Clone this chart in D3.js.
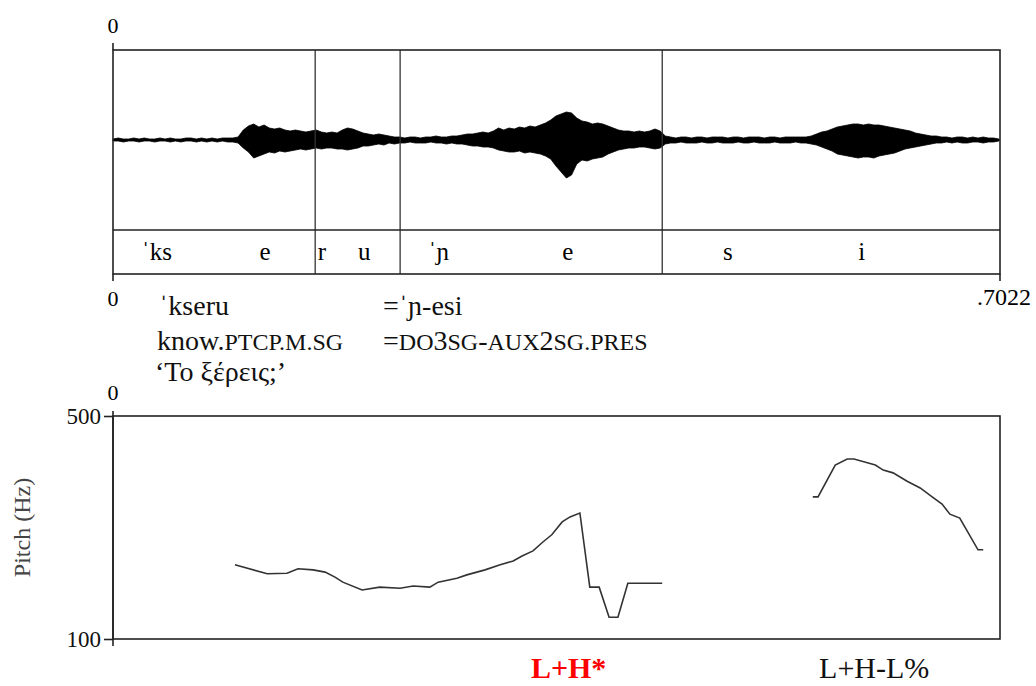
<!DOCTYPE html>
<html>
<head>
<meta charset="utf-8">
<script src="https://cdn.jsdelivr.net/npm/d3@7"></script>
<style>
  body { margin: 0; background: #fff; }
  svg { display: block; font-family: "Liberation Serif", "DejaVu Serif", serif; }
</style>
</head>
<body>
<div id="graph"></div>
<script>
const width = 1036, height = 686;

// recording length (s) and tier boundaries (s)
const duration = 1.7022;
const boundaries = [0.388, 0.551, 1.054];

// tier labels and their centre times (s)
const tierLabels = ["ˈks", "e", "r", "u", "ˈɲ", "e", "s", "i"];
const tierTimes = [0.084, 0.292, 0.401, 0.482, 0.625, 0.873, 1.180, 1.437];

// waveform envelope, one value each 10 ms (amplitude, arbitrary units)
const waveTop = [
  1,2,1,1,2,1,2,1,1,2,1,2,1,1,2,2,1,2,1,2,1,2,2,2,
  3,10,14,16,13,15,12,11,12,10,9,10,9,8,9,10,8,7,8,7,10,12,11,9,7,6,5,6,5,4,3,
  3,2,3,3,2,3,3,4,3,3,4,
  4,5,6,6,7,8,7,9,12,10,12,11,13,12,14,13,15,17,20,24,26,28,27,22,19,18,16,17,16,14,12,10,9,9,8,9,8,9,11,9,4,
  3,2,3,3,2,3,3,2,3,3,3,2,3,3,2,3,3,3,2,3,3,2,3,3,3,3,3,
  4,6,8,9,11,13,14,15,16,16,15,16,15,15,14,13,12,11,10,9,7,6,5,4,4,
  3,3,2,3,3,2,3,2,3,2,2,1
];
const waveBottom = [
  1,1,2,1,1,2,1,1,2,1,1,2,1,2,1,1,2,1,2,1,2,1,2,2,
  3,8,12,18,16,14,12,13,11,12,11,10,9,10,9,8,9,8,8,9,9,10,9,8,6,6,5,4,5,3,4,
  3,3,2,3,3,3,2,3,3,4,3,
  4,4,5,6,6,7,7,8,10,11,12,12,11,13,12,13,14,16,19,26,32,38,35,24,20,21,19,18,17,14,12,10,9,8,8,7,7,8,9,8,4,
  3,3,2,3,3,3,2,3,3,2,3,3,3,2,3,3,2,3,3,3,2,3,3,3,2,3,3,
  4,5,7,9,11,14,15,16,17,18,17,17,18,16,15,14,13,11,9,8,7,6,5,4,3,
  3,2,3,2,3,3,2,2,3,2,2,1
];

// pitch track, two voiced stretches (time s, Hz)
const pitchTimes1 = [0.234,0.296,0.334,0.355,0.384,0.407,0.426,0.441,0.478,0.512,0.551,0.576,0.608,0.624,0.660,0.679,0.714,0.743,0.768,0.785,0.806,0.825,0.842,0.862,0.877,0.896,0.915,0.933,0.952,0.969,0.988,1.017,1.054];
const pitchHz1 = [233,217,218,226,224,220,211,202,188,193,191,195,193,202,209,215,224,233,240,249,258,274,287,310,319,326,193,193,139,139,200,200,200];
const pitchTimes2 = [1.343,1.353,1.386,1.409,1.422,1.463,1.478,1.497,1.524,1.549,1.572,1.591,1.606,1.625,1.660,1.670];
const pitchHz2 = [355,355,412,423,423,412,403,398,383,371,355,342,324,317,260,260];

// gloss lines
const glossWords = ["ˈkseru", "=ˈɲ-esi"];
const toneLabels = ["L+H*", "L+H-L%"];
const toneTimes = [0.802, 1.355];

const svg = d3.select("#graph").append("svg")
  .attr("width", width)
  .attr("height", height);

const x = d3.scaleLinear().domain([0, duration]).range([113, 1000]);

// ---- waveform panel ----
const wTop = 50, wTier = 230, wBottom = 274;
const yWave = d3.scaleLinear().domain([-90, 90]).range([wTier, wTop]);

const waveData = waveTop.map((v, i) => ({ t: i * 0.01, hi: v, lo: -waveBottom[i] }));
svg.append("path")
  .datum(waveData)
  .attr("fill", "#000")
  .attr("stroke", "#000")
  .attr("stroke-width", 0.8)
  .attr("d", d3.area().x(d => x(d.t)).y0(d => yWave(d.lo)).y1(d => yWave(d.hi)));

svg.append("line")
  .attr("x1", x(0)).attr("x2", x(duration))
  .attr("y1", yWave(0)).attr("y2", yWave(0))
  .attr("stroke", "#000").attr("stroke-width", 1.2);

svg.selectAll(".bound").data(boundaries).enter().append("line")
  .attr("class", "bound")
  .attr("x1", d => x(d)).attr("x2", d => x(d))
  .attr("y1", wTop).attr("y2", wBottom)
  .attr("stroke", "#333").attr("stroke-width", 1.3);

svg.append("rect")
  .attr("x", x(0)).attr("y", wTop)
  .attr("width", x(duration) - x(0)).attr("height", wBottom - wTop)
  .attr("fill", "none").attr("stroke", "#222").attr("stroke-width", 1.6);

svg.append("line")
  .attr("x1", x(0)).attr("x2", x(duration))
  .attr("y1", wTier).attr("y2", wTier)
  .attr("stroke", "#222").attr("stroke-width", 1.4);

// small ticks at the time origin
svg.append("line").attr("x1", x(0)).attr("x2", x(0)).attr("y1", 43).attr("y2", wTop).attr("stroke", "#222").attr("stroke-width", 1.6);
svg.append("line").attr("x1", x(0)).attr("x2", x(0)).attr("y1", wBottom).attr("y2", 281).attr("stroke", "#222").attr("stroke-width", 1.6);
svg.append("line").attr("x1", x(duration)).attr("x2", x(duration)).attr("y1", wBottom).attr("y2", 281).attr("stroke", "#222").attr("stroke-width", 1.6);

svg.selectAll(".tier").data(tierLabels).enter().append("text")
  .attr("class", "tier")
  .attr("x", (d, i) => x(tierTimes[i]))
  .attr("y", 260)
  .attr("text-anchor", "middle")
  .attr("font-size", 25)
  .text(d => d);

svg.append("text").attr("x", x(0)).attr("y", 33).attr("text-anchor", "middle").attr("font-size", 22).text("0");
svg.append("text").attr("x", x(0)).attr("y", 306).attr("text-anchor", "middle").attr("font-size", 22).text("0");
svg.append("text").attr("x", 977).attr("y", 305).attr("font-size", 24).text(".7022");

// ---- gloss ----
const big = 28, sc = 24;
const gloss = svg.append("g").attr("font-size", big).attr("fill", "#111");
gloss.append("text").attr("x", 159).attr("y", 315).text(glossWords[0]);
gloss.append("text").attr("x", 383).attr("y", 315).text(glossWords[1]);

const l2a = gloss.append("text").attr("x", 157).attr("y", 350);
l2a.append("tspan").text("know.");
l2a.append("tspan").attr("font-size", sc).text("PTCP.M.SG");

const l2b = gloss.append("text").attr("x", 383).attr("y", 350);
[["=", big], ["DO", sc], ["3", big], ["SG", sc], ["-", big], ["AUX", sc], ["2", big], ["SG.PRES", sc]]
  .forEach(p => l2b.append("tspan").attr("font-size", p[1]).text(p[0]));

gloss.append("text").attr("x", 155).attr("y", 381).text("‘Το ξέρεις;’");

svg.append("text").attr("x", x(0)).attr("y", 400).attr("text-anchor", "middle").attr("font-size", 22).text("0");

// ---- pitch panel ----
const pTop = 416, pBottom = 639;
const yPitch = d3.scaleLinear().domain([100, 500]).range([pBottom, pTop]);

svg.append("rect")
  .attr("x", x(0)).attr("y", yPitch(500))
  .attr("width", x(duration) - x(0)).attr("height", yPitch(100) - yPitch(500))
  .attr("fill", "none").attr("stroke", "#222").attr("stroke-width", 1.6);

svg.append("line").attr("x1", x(0)).attr("x2", x(0)).attr("y1", 411).attr("y2", 646).attr("stroke", "#222").attr("stroke-width", 1.6);

const yAxis = d3.axisLeft(yPitch).tickValues([100, 500]).tickSize(9).tickPadding(3);
const ya = svg.append("g").attr("transform", `translate(${x(0)},0)`).call(yAxis);
ya.select(".domain").remove();
ya.selectAll("line").attr("stroke", "#222").attr("stroke-width", 1.6);
ya.selectAll("text").attr("font-family", "Liberation Serif, serif").attr("font-size", 23).attr("fill", "#111");

svg.append("text")
  .attr("transform", `translate(30,${(pTop + pBottom) / 2}) rotate(-90)`)
  .attr("text-anchor", "middle")
  .attr("font-size", 24)
  .attr("fill", "#444")
  .text("Pitch (Hz)");

const pitchLine = d3.line().x(d => x(d[0])).y(d => yPitch(d[1]));
[[pitchTimes1, pitchHz1], [pitchTimes2, pitchHz2]].forEach(s => {
  svg.append("path")
    .datum(d3.zip(s[0], s[1]))
    .attr("fill", "none")
    .attr("stroke", "#333")
    .attr("stroke-width", 1.6)
    .attr("d", pitchLine);
});

// ---- tone labels ----
svg.selectAll(".tone").data(toneLabels).enter().append("text")
  .attr("class", "tone")
  .attr("x", (d, i) => x(toneTimes[i]))
  .attr("y", 678)
  .attr("font-size", 30)
  .attr("font-weight", (d, i) => i === 0 ? "bold" : "normal")
  .attr("fill", (d, i) => i === 0 ? "#ff0000" : "#111")
  .text(d => d);
</script>
</body>
</html>
